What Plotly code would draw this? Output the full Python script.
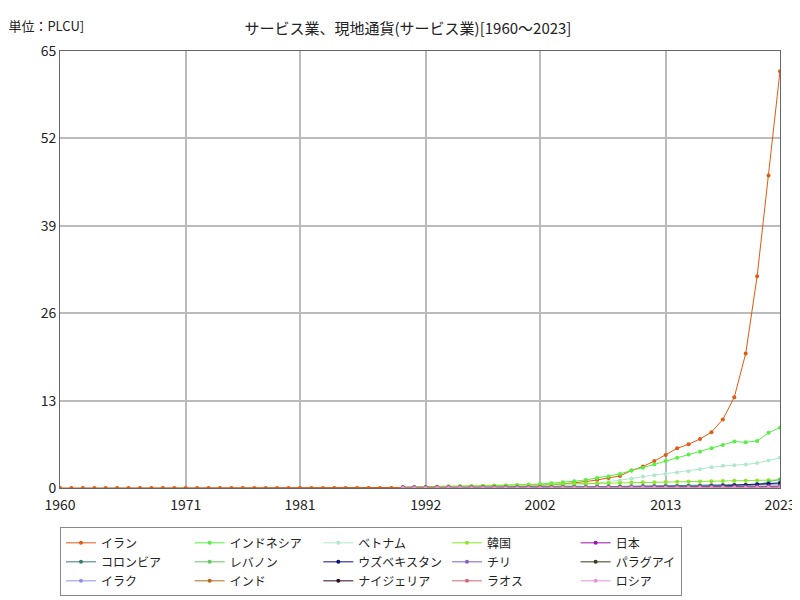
import plotly.graph_objects as go

years = list(range(1960, 2024))
yrs90 = list(range(1990, 2024))

iran = [0.0001, 0.0001, 0.0001, 0.0001, 0.0001, 0.0001, 0.0002, 0.0002, 0.0002, 0.0002,
        0.0003, 0.0003, 0.0004, 0.0005, 0.0007, 0.0008, 0.001, 0.0013, 0.0014, 0.0016,
        0.0019, 0.0023, 0.0028, 0.0034, 0.004, 0.0045, 0.005, 0.0065, 0.008, 0.01,
        0.012, 0.016, 0.022, 0.03, 0.04, 0.06, 0.08, 0.1, 0.12, 0.15,
        0.2, 0.26, 0.35, 0.45, 0.6, 0.78, 0.95, 1.2, 1.5, 1.8,
        2.6, 3.2, 4.0, 4.9, 5.9, 6.5, 7.3, 8.3, 10.2, 13.5, 20.0, 31.5, 46.5, 62.0]
indonesia = [0.07, 0.08, 0.09, 0.1, 0.12, 0.14, 0.16, 0.28, 0.32, 0.38, 0.45, 0.52, 0.6, 0.7,
             0.85, 1.0, 1.2, 1.5, 1.7, 2.1, 2.6, 3.0, 3.5, 4.0, 4.5, 5.0, 5.4, 5.9, 6.4,
             6.9, 6.8, 7.0, 8.2, 9.0]
vietnam = [0.03, 0.05, 0.06, 0.08, 0.09, 0.1, 0.11, 0.12, 0.13, 0.15, 0.17, 0.2, 0.23, 0.27,
           0.32, 0.38, 0.5, 0.7, 0.9, 1.1, 1.4, 1.7, 1.9, 2.1, 2.3, 2.5, 2.8, 3.1, 3.3,
           3.4, 3.5, 3.7, 4.1, 4.5]
korea = [0.15, 0.18, 0.2, 0.22, 0.25, 0.28, 0.31, 0.34, 0.37, 0.39, 0.42, 0.45, 0.48, 0.52, 0.56,
         0.6, 0.63, 0.67, 0.71, 0.75, 0.8, 0.84, 0.87, 0.9, 0.92, 0.95, 0.98, 1.01, 1.04,
         1.06, 1.08, 1.12, 1.15, 1.2]
japan = [0.1, 0.105, 0.11, 0.112, 0.113, 0.115, 0.116, 0.117, 0.118, 0.118, 0.119, 0.12, 0.12, 0.12,
         0.121, 0.122, 0.123, 0.124, 0.125, 0.126, 0.127, 0.128, 0.129, 0.13, 0.13, 0.131, 0.132,
         0.133, 0.134, 0.134, 0.132, 0.133, 0.135, 0.137]
colombia = [0.02, 0.025, 0.03, 0.04, 0.05, 0.06, 0.07, 0.08, 0.09, 0.1, 0.11, 0.12, 0.13, 0.14, 0.15,
            0.16, 0.18, 0.2, 0.22, 0.24, 0.26, 0.28, 0.3, 0.32, 0.34, 0.36, 0.38, 0.41, 0.44,
            0.46, 0.44, 0.5, 0.57, 0.62]
lebanon = [0.01, 0.02, 0.03, 0.04, 0.05, 0.06, 0.07, 0.08, 0.09, 0.1, 0.1, 0.11, 0.11, 0.12, 0.12,
           0.13, 0.14, 0.15, 0.16, 0.17, 0.18, 0.19, 0.2, 0.21, 0.22, 0.23, 0.23, 0.24, 0.24,
           0.25, 0.3, 0.5, 0.9, 1.3]
uzbek = [0.0, 0.0, 0.0, 0.0, 0.001, 0.002, 0.004, 0.006, 0.008, 0.01, 0.013, 0.016, 0.02, 0.025,
         0.03, 0.035, 0.04, 0.05, 0.06, 0.07, 0.08, 0.1, 0.12, 0.14, 0.16, 0.19, 0.22, 0.26,
         0.32, 0.4, 0.46, 0.55, 0.65, 0.75]
chile = [0.02, 0.025, 0.03, 0.035, 0.04, 0.045, 0.05, 0.055, 0.06, 0.065, 0.07, 0.075, 0.08, 0.085,
         0.09, 0.095, 0.1, 0.11, 0.12, 0.125, 0.13, 0.14, 0.15, 0.16, 0.17, 0.18, 0.19, 0.2,
         0.21, 0.22, 0.21, 0.24, 0.27, 0.29]
paraguay = [0.005, 0.007, 0.009, 0.011, 0.013, 0.015, 0.017, 0.019, 0.021, 0.023, 0.025, 0.027,
            0.03, 0.034, 0.038, 0.042, 0.046, 0.05, 0.055, 0.06, 0.065, 0.07, 0.075, 0.08, 0.085,
            0.09, 0.095, 0.1, 0.105, 0.11, 0.11, 0.12, 0.13, 0.14]
iraq = [0.0, 0.0, 0.0, 0.0, 0.001, 0.002, 0.003, 0.005, 0.007, 0.01, 0.012, 0.015, 0.02, 0.025,
        0.03, 0.035, 0.04, 0.05, 0.06, 0.07, 0.075, 0.08, 0.085, 0.09, 0.09, 0.095, 0.1, 0.1,
        0.11, 0.11, 0.1, 0.12, 0.14, 0.15]
india = [0.003, 0.004, 0.005, 0.006, 0.007, 0.008, 0.009, 0.01, 0.011, 0.012, 0.013, 0.014, 0.015,
         0.017, 0.019, 0.021, 0.023, 0.025, 0.028, 0.031, 0.034, 0.037, 0.04, 0.044, 0.048, 0.052,
         0.057, 0.062, 0.068, 0.073, 0.07, 0.08, 0.09, 0.1]
nigeria = [0.0005, 0.0007, 0.001, 0.0015, 0.002, 0.003, 0.004, 0.005, 0.006, 0.007, 0.008, 0.009,
           0.01, 0.012, 0.014, 0.016, 0.018, 0.02, 0.022, 0.025, 0.028, 0.031, 0.034, 0.037, 0.04,
           0.043, 0.046, 0.05, 0.055, 0.06, 0.065, 0.07, 0.08, 0.09]
laos = [0.001, 0.002, 0.003, 0.004, 0.005, 0.006, 0.007, 0.008, 0.009, 0.01, 0.012, 0.014, 0.016,
        0.018, 0.02, 0.022, 0.024, 0.027, 0.03, 0.033, 0.036, 0.04, 0.044, 0.048, 0.052, 0.056,
        0.06, 0.064, 0.068, 0.072, 0.075, 0.085, 0.11, 0.14]
russia = [0.0001, 0.0002, 0.001, 0.002, 0.003, 0.004, 0.005, 0.006, 0.007, 0.008, 0.009, 0.01,
          0.011, 0.012, 0.013, 0.014, 0.015, 0.016, 0.017, 0.018, 0.019, 0.02, 0.021, 0.022, 0.023,
          0.024, 0.025, 0.026, 0.027, 0.028, 0.028, 0.03, 0.033, 0.035]

series = [
    ("イラン", years, iran, "#e05a10"),
    ("インドネシア", yrs90, indonesia, "#55f040"),
    ("ベトナム", yrs90, vietnam, "#b0e8cc"),
    ("韓国", yrs90, korea, "#88e828"),
    ("日本", yrs90, japan, "#a010b0"),
    ("コロンビア", yrs90, colombia, "#3a7a78"),
    ("レバノン", yrs90, lebanon, "#60c860"),
    ("ウズベキスタン", yrs90, uzbek, "#101080"),
    ("チリ", yrs90, chile, "#8060c8"),
    ("パラグアイ", yrs90, paraguay, "#2e4018"),
    ("イラク", yrs90, iraq, "#9090e8"),
    ("インド", yrs90, india, "#b06a10"),
    ("ナイジェリア", yrs90, nigeria, "#300828"),
    ("ラオス", yrs90, laos, "#d06878"),
    ("ロシア", yrs90, russia, "#e890d8"),
]

fig = go.Figure()
for name, xs, ys, col in series:
    fig.add_trace(go.Scatter(x=xs, y=ys, name=name, mode="lines+markers",
                             line=dict(color=col, width=1), marker=dict(color=col, size=4)))

fig.update_layout(
    width=800, height=600,
    font=dict(family="Noto Sans CJK JP", size=13, color="#222"),
    title=dict(text="サービス業、現地通貨(サービス業)[1960～2023]", x=0.5, y=0.975, font=dict(size=15)),
    margin=dict(l=52, r=28, t=43, b=113),
    plot_bgcolor="white", paper_bgcolor="white",
    legend=dict(orientation="h", x=0.0, y=-0.09, xanchor="left", yanchor="top",
                bordercolor="#888", borderwidth=1, font=dict(size=12), itemwidth=30,
                tracegroupgap=0),
    annotations=[dict(text="[単位：PLCU]", xref="paper", yref="paper", x=-0.08, y=1.085,
                      xanchor="left", showarrow=False, font=dict(size=13))],
)
fig.update_xaxes(range=[1960, 2023], tickvals=[1960, 1971, 1981, 1992, 2002, 2013, 2023],
                 showgrid=True, gridcolor="#bbb", gridwidth=1.5, showline=True,
                 linecolor="#666", mirror=True, ticks="outside", ticklen=4, tickcolor="white",
                 tickfont=dict(size=14))
fig.update_yaxes(range=[0, 65], tickvals=[0, 13, 26, 39, 52, 65],
                 showgrid=True, gridcolor="#bbb", gridwidth=1.5, showline=True,
                 linecolor="#666", mirror=True, zeroline=False, tickfont=dict(size=14))

fig.write_html("out.html")
